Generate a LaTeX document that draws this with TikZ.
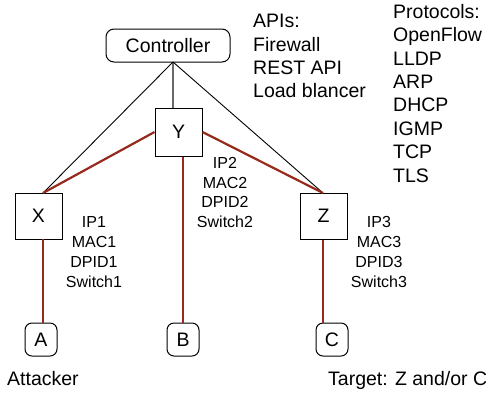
\documentclass[tikz,border=0pt]{standalone}
\usepackage{fontspec}
\setmainfont{Liberation Sans}
\definecolor{linkred}{RGB}{150,42,28}
\definecolor{linkgray}{RGB}{105,105,105}
\begin{document}
\begin{tikzpicture}[x=1pt,y=-1pt,
  big/.style={font=\fontsize{19.5}{23.4}\selectfont},
  small/.style={font=\fontsize{16}{19.8}\selectfont},
  switchbox/.style={draw,line width=1pt,inner sep=0pt,minimum width=47pt,minimum height=47pt,big},
  hostbox/.style={draw,line width=1pt,rounded corners=7pt,inner sep=0pt,minimum width=32pt,minimum height=33pt,big},
  redlink/.style={draw=linkred,line width=2.2pt},
  blacklink/.style={draw=black,line width=0.9pt},
  graylink/.style={draw=linkgray,line width=1.8pt},
  info/.style={small,align=center,inner sep=0pt},
  listtext/.style={big,align=left,inner sep=0pt,anchor=north west}
]
\useasboundingbox (0,0) rectangle (486,392);
\node[draw,line width=1pt,rounded corners=8pt,minimum width=124pt,minimum height=33pt,inner sep=0pt,big] (ctrl) at (168,45.5) {Controller};
\node[switchbox,minimum height=48pt] (Y) at (178.5,132) {Y};
\node[switchbox,minimum height=46pt] (X) at (38.5,216) {X};
\node[switchbox,minimum height=46pt] (Z) at (323.5,216) {Z};
\node[hostbox] (A) at (41,339.5) {A};
\node[hostbox] (B) at (183,339.5) {B};
\node[hostbox] (C) at (332,339.5) {C};
\coordinate (cb) at (173,62);
\coordinate (xt) at (43,193);
\coordinate (xb) at (43,239);
\coordinate (zt) at (323,193);
% connectors
\draw[graylink] (cb) -- (cb |- Y.north);
\draw[blacklink] (cb) -- (xt);
\draw[blacklink] (cb) -- (zt);
\draw[redlink] (Y.west) -- (xt);
\draw[redlink] (Y.east) -- (zt);
\draw[redlink] (B.north |- Y.south) -- (B.north);
\draw[redlink] (xb) -- (xb |- A.north);
\draw[redlink] (zt |- Z.south) -- (zt |- C.north);
% labels
\node[info] (i1) at (94,252) {IP1\\MAC1\\DPID1\\Switch1};
\node[info] (i2) at (225,192.5) {IP2\\MAC2\\DPID2\\Switch2};
\node[info] (i3) at (379,252) {IP3\\MAC3\\DPID3\\Switch3};
\node[listtext] (apis) at (253,14) {APIs:\\Firewall\\REST API\\Load blancer};
\node[listtext] (prot) at (393,4) {Protocols:\\OpenFlow\\LLDP\\ARP\\DHCP\\IGMP\\TCP\\TLS};
\node[big,anchor=base west,inner sep=0pt] (att) at (7,385) {Attacker};
\node[big,anchor=base west,inner sep=0pt] (tgt) at (328,385) {Target: Z and/or C};
\end{tikzpicture}
\end{document}
